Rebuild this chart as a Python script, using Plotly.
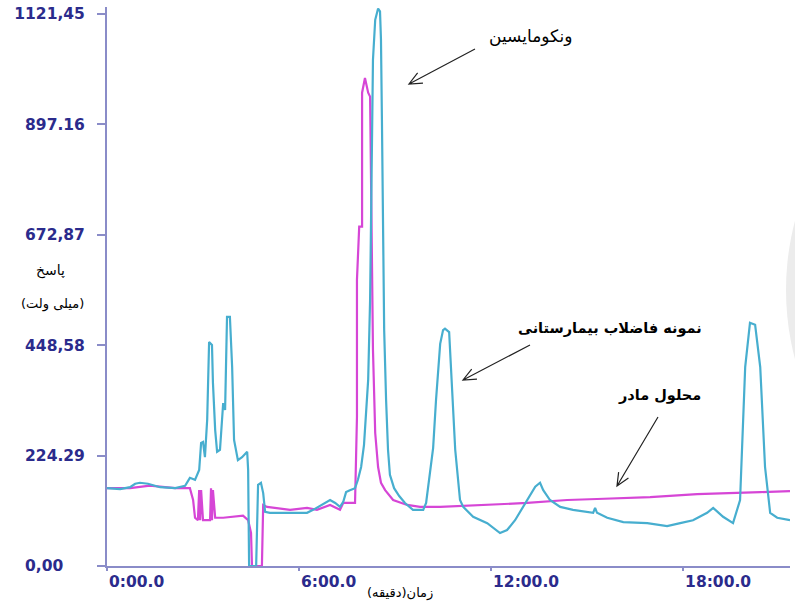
import math
import plotly.graph_objects as go

# ---- data (time in minutes, response in mV) ----
sample_t = [0.00, 0.41, 0.72, 0.88, 1.03, 1.28, 1.66, 2.13, 2.44, 2.59, 2.75, 2.88, 2.94, 3.00,
            3.06, 3.13, 3.19, 3.28, 3.31, 3.38, 3.44, 3.53, 3.63, 3.69, 3.75, 3.84, 3.91, 3.97,
            4.09, 4.22, 4.38, 4.41, 4.44, 4.66, 4.72, 4.81, 4.88, 4.94, 5.09, 5.81, 6.25, 6.44,
            6.72, 6.97, 7.13, 7.28, 7.38, 7.47, 7.59, 7.75, 7.84, 7.94, 8.03, 8.09, 8.16, 8.22,
            8.25, 8.28, 8.31, 8.38, 8.47, 8.53, 8.56, 8.59, 8.63, 8.66, 8.72, 8.78, 8.84, 8.97,
            9.13, 9.31, 9.56, 9.88, 9.97, 10.09, 10.19, 10.28, 10.41, 10.50, 10.56, 10.69, 10.78,
            10.88, 11.03, 11.13, 11.44, 11.88, 12.28, 12.50, 12.75, 13.00, 13.16, 13.38, 13.53,
            13.63, 13.84, 14.16, 14.56, 15.19, 15.25, 15.31, 15.63, 16.13, 16.88, 17.50, 17.91,
            18.31, 18.75, 18.94, 19.25, 19.56, 19.78, 19.94, 20.09, 20.25, 20.41, 20.56, 20.72,
            20.94, 21.34]
sample_y = [158, 156, 160, 167, 169, 167, 160, 158, 163, 179, 175, 195, 250, 252,
            221, 297, 455, 449, 372, 276, 232, 236, 331, 317, 506, 506, 404, 256,
            215, 221, 232, 195, 0, 0, 165, 169, 148, 110, 108, 108, 108, 114,
            124, 134, 128, 120, 130, 150, 154, 158, 175, 201, 246, 317, 378, 540,
            744, 906, 1028, 1109, 1132, 1126, 1069, 906, 642, 479, 337, 236, 185, 158,
            142, 128, 114, 114, 128, 185, 240, 337, 451, 479, 482, 475, 372,
            236, 134, 120, 100, 87, 67, 73, 93, 120, 140, 161, 169,
            154, 134, 120, 114, 108, 118, 108, 98, 89, 87, 81, 87,
            93, 108, 118, 100, 87, 134, 404, 494, 490, 404, 201, 108,
            98, 93]

mother_t = [0.00, 0.72, 1.34, 2.13, 2.59, 2.69, 2.75, 2.84, 2.88, 2.91, 2.94, 3.00, 3.06, 3.22,
            3.25, 3.28, 3.31, 3.38, 3.63, 4.06, 4.25, 4.41, 4.50, 4.53, 4.84, 4.88, 5.00, 5.72,
            6.25, 6.56, 6.97, 7.28, 7.38, 7.75, 7.81, 7.81, 7.88, 7.97, 7.97, 8.06, 8.16, 8.22,
            8.25, 8.28, 8.31, 8.38, 8.47, 8.56, 8.69, 8.94, 9.38, 9.78, 10.41, 13.13, 14.38,
            15.31, 16.97, 18.44, 19.78, 20.41, 21.34]
mother_y = [158, 158, 163, 158, 158, 134, 98, 93, 154, 93, 154, 93, 93, 93,
            158, 93, 154, 98, 98, 100, 102, 93, 67, 0, 0, 124, 120, 114,
            118, 114, 124, 114, 128, 128, 303, 581, 689, 689, 961, 991, 961, 953,
            723, 581, 439, 270, 201, 169, 154, 134, 124, 120, 120, 128, 134,
            136, 140, 146, 148, 150, 152]

x_tickvals = [0, 6, 12, 18]
x_ticktext = ["0:00.0", "6:00.0", "12:00.0", "18:00.0"]
y_tickvals = [0, 224.29, 448.58, 672.87, 897.16, 1121.45]
y_ticktext = ["0,00\u00a0\u00a0\u00a0\u00a0", "224.29", "448,58", "672,87", "897.16", "1121,45"]

# ---- layout geometry (pixels) ----
W, H = 795, 605
L, R, T, B = 107, 5, 7, 39
PW, PH = W - L - R, H - T - B

def px(x):
    return (x - L) / PW

def py(y):
    return (H - B - y) / PH

AX = "#8a8cc8"
TICKC = "#2b2b8c"
SAMPLE_C = "#47aecf"
MOTHER_C = "#d646d6"

fig = go.Figure()
fig.add_trace(go.Scatter(x=mother_t, y=mother_y, mode="lines",
                         line=dict(color=MOTHER_C, width=2.2), name="محلول مادر",
                         showlegend=False))
fig.add_trace(go.Scatter(x=sample_t, y=sample_y, mode="lines",
                         line=dict(color=SAMPLE_C, width=2.2), name="نمونه فاضلاب بیمارستانی",
                         showlegend=False))

tickfont = dict(family="DejaVu Sans", size=15.5, color=TICKC, weight="bold")
fig.update_xaxes(range=[0, 21.34], tickvals=x_tickvals, ticktext=x_ticktext,
                 showline=True, linecolor=AX, linewidth=2, ticks="outside", ticklen=3,
                 tickcolor=AX, tickwidth=2, ticklabelposition="outside right",
                 tickfont=tickfont, showgrid=False, zeroline=False, automargin=False)
fig.update_yaxes(range=[0, 1135], tickvals=y_tickvals, ticktext=y_ticktext,
                 showline=True, linecolor=AX, linewidth=2, ticks="outside", ticklen=8,
                 tickcolor=AX, tickwidth=2, ticklabelstandoff=9,
                 tickfont=tickfont, showgrid=False, zeroline=False, automargin=False)

ARF = "DejaVu Sans"
annots = [
    dict(text="ونکومایسین", x=530, y=36, size=17, bold=False),
    dict(text="نمونه فاضلاب بیمارستانی", x=610, y=328, size=14.5, bold=True),
    dict(text="محلول مادر", x=659, y=395, size=14.5, bold=True),
    dict(text="زمان(دقیقه)", x=400, y=593, size=13, bold=False),
    dict(text="پاسخ", x=50, y=270, size=14, bold=False),
    dict(text="(میلی ولت)", x=52, y=304, size=13, bold=False),
]
for a in annots:
    fig.add_annotation(text=a["text"], x=px(a["x"]), y=py(a["y"]), xref="paper", yref="paper",
                       showarrow=False, xanchor="center", yanchor="middle",
                       font=dict(family=ARF, size=a["size"], color="black",
                                 weight="bold" if a["bold"] else "normal"))

# arrows: (tail_x, tail_y, head_x, head_y) in pixels
arrows = [(475, 49, 409, 84), (530, 345, 463, 380), (658, 417, 617, 486)]
for tx, ty, hx, hy in arrows:
    ang = math.atan2(ty - hy, tx - hx)
    pts = []
    for d in (0.42, -0.42):
        pts.append((hx + 14 * math.cos(ang + d), hy + 14 * math.sin(ang + d)))
    path = (f"M {px(tx)},{py(ty)} L {px(hx)},{py(hy)} "
            f"M {px(pts[0][0])},{py(pts[0][1])} L {px(hx)},{py(hy)} L {px(pts[1][0])},{py(pts[1][1])}")
    fig.add_shape(type="path", path=path, xref="paper", yref="paper",
                  line=dict(color="#222222", width=1.2))

# faint grey arc at the right edge of the scanned page
fig.add_shape(type="circle", xref="paper", yref="paper", layer="below",
              x0=px(786), x1=px(786 + 540), y0=py(290 + 270), y1=py(290 - 270),
              fillcolor="#ececec", line=dict(width=0))

fig.update_layout(width=W, height=H, margin=dict(l=L, r=R, t=T, b=B, autoexpand=False),
                  paper_bgcolor="white", plot_bgcolor="rgba(0,0,0,0)", showlegend=False)

fig.write_html("out.html", config={"displayModeBar": False},
               post_script="document.body.style.margin='0px';document.body.style.overflow='hidden';")
